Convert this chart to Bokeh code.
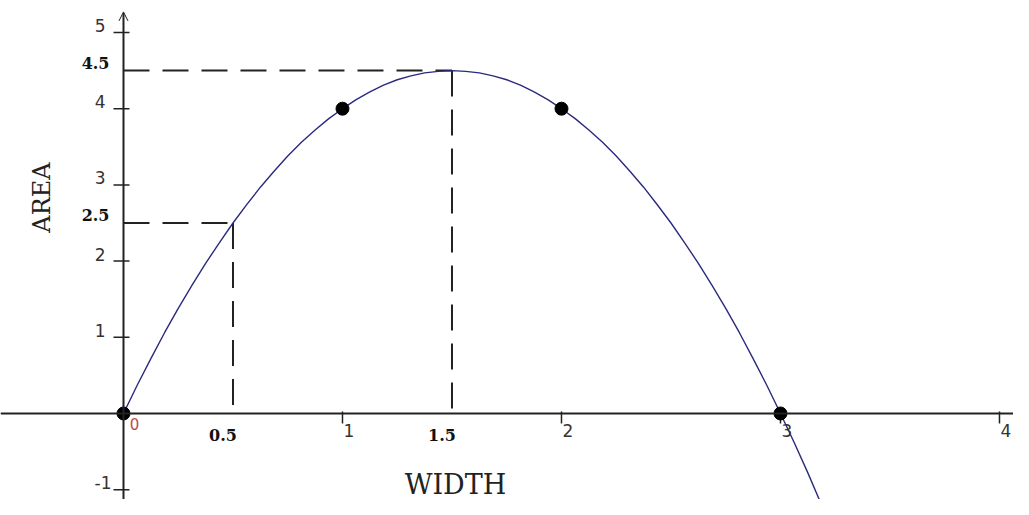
import math
from bokeh.plotting import figure
from bokeh.models import Range1d, Label, Arrow, OpenHead, Span
from bokeh.core.properties import value
from bokeh.embed import file_html
from bokeh.resources import INLINE

# ---- data ----
curve_x = [0, 0.0625, 0.125, 0.1875, 0.25, 0.3125, 0.375, 0.4375, 0.5, 0.5625,
           0.625, 0.6875, 0.75, 0.8125, 0.875, 0.9375, 1.0, 1.0625, 1.125, 1.1875,
           1.25, 1.3125, 1.375, 1.4375, 1.5, 1.5625, 1.625, 1.6875, 1.75, 1.8125,
           1.875, 1.9375, 2.0, 2.0625, 2.125, 2.1875, 2.25, 2.3125, 2.375, 2.4375,
           2.5, 2.5625, 2.625, 2.6875, 2.75, 2.8125, 2.875, 2.9375, 3.0, 3.0625,
           3.125, 3.1875, 3.25, 3.3125]
curve_y = [0, 0.37, 0.72, 1.06, 1.38, 1.68, 1.97, 2.24, 2.5, 2.74,
           2.97, 3.18, 3.38, 3.56, 3.72, 3.87, 4.0, 4.12, 4.22, 4.31,
           4.38, 4.43, 4.47, 4.49, 4.5, 4.49, 4.47, 4.43, 4.38, 4.31,
           4.22, 4.12, 4.0, 3.87, 3.72, 3.56, 3.38, 3.18, 2.97, 2.74,
           2.5, 2.24, 1.97, 1.68, 1.38, 1.06, 0.72, 0.37, 0.0, -0.38,
           -0.78, -1.2, -1.63, -2.07]
point_x = [0, 1, 2, 3]
point_y = [0, 4, 4, 0]
guide_x = [0.5, 1.5]
guide_y = [2.5, 4.5]
guide_x_labels = ["0.5", "1.5"]
guide_y_labels = ["2.5", "4.5"]
y_ticks = [-1, 1, 2, 3, 4, 5]
y_tick_labels = ["-1", "1", "2", "3", "4", "5"]
x_ticks = [1, 2, 3, 4]
x_tick_labels = ["1", "2", "3", "4"]
origin_label = ["0"]
x_title = "WIDTH"
y_title = "AREA"

W, H = 1013, 499
X0, X1 = -0.5616, 4.064
Y0, Y1 = -1.129, 5.42
AX = "#222222"

p = figure(width=W, height=H, output_backend="svg", toolbar_location=None,
           x_range=Range1d(X0, X1), y_range=Range1d(Y0, Y1),
           x_axis_type=None, y_axis_type=None, min_border=0,
           outline_line_color=None, background_fill_color="white",
           border_fill_color="white")
p.grid.visible = False

# axes drawn through the origin
p.add_layout(Span(location=0, dimension="width", line_color=AX, line_width=2))
p.add_layout(Arrow(end=OpenHead(size=9, line_color=AX, line_width=1),
                   x_start=0, y_start=Y0, x_end=0, y_end=5.27,
                   line_color=AX, line_width=2))

# tick marks
p.ray(x=[0] * len(y_ticks), y=y_ticks, length=10, angle=math.pi, length_units="screen",
      line_color=AX, line_width=1.5)
p.ray(x=[0] * len(y_ticks), y=y_ticks, length=6, angle=0, length_units="screen",
      line_color=AX, line_width=1.5)
p.ray(x=x_ticks, y=[0] * len(x_ticks), length=10, angle=-math.pi / 2, length_units="screen",
      line_color=AX, line_width=1.5)
p.ray(x=x_ticks, y=[0] * len(x_ticks), length=2, angle=math.pi / 2, length_units="screen",
      line_color=AX, line_width=1.5)

# dashed guides
p.segment(x0=[0] * len(guide_x), y0=guide_y, x1=guide_x, y1=guide_y,
          line_color=AX, line_width=2, line_dash="26 13")
p.segment(x0=guide_x, y0=guide_y, x1=guide_x, y1=[0] * len(guide_x),
          line_color=AX, line_width=2, line_dash="26 13")

# curve and points
p.line(curve_x, curve_y, line_color="#2a2a7e", line_width=1.4, line_join="round")
p.scatter(point_x, point_y, size=13, color="black")

# tick labels
sans = value("DejaVu Sans")
serif = value("DejaVu Serif")
p.text(x=[0] * len(y_ticks), y=y_ticks, text=y_tick_labels,
       x_offset=[-12, -18, -18, -18, -18, -18], y_offset=-7,
       text_align="right", text_baseline="middle", text_font=sans,
       text_font_size="17px", text_color="#333333")
p.text(x=x_ticks, y=[0] * len(x_ticks), text=x_tick_labels, x_offset=1, y_offset=17,
       text_align="left", text_baseline="middle", text_font=sans,
       text_font_size="17px", text_color="#333333")
p.text(x=[0], y=[0], text=origin_label, x_offset=11, y_offset=11,
       text_align="center", text_baseline="middle", text_font=sans,
       text_font_size="15px", text_color="#b94a48")
p.text(x=[0] * len(guide_y), y=guide_y, text=guide_y_labels, x_offset=-14, y_offset=-8,
       text_align="right", text_baseline="middle", text_font=serif,
       text_font_style="bold", text_font_size="16px", text_color="#111111")
p.text(x=guide_x, y=[0] * len(guide_x), text=guide_x_labels, x_offset=-10, y_offset=22,
       text_align="center", text_baseline="middle", text_font=serif,
       text_font_style="bold", text_font_size="16px", text_color="#111111")

# axis titles
p.add_layout(Label(x=455, y=15, x_units="screen", y_units="screen", text=x_title,
                   text_align="center", text_baseline="middle", text_font="DejaVu Serif",
                   text_font_size="27px", text_color="#222222"))
p.add_layout(Label(x=41, y=302, x_units="screen", y_units="screen", text=y_title,
                   angle=math.pi / 2, text_align="center", text_baseline="middle",
                   text_font="DejaVu Serif", text_font_size="24px", text_color="#222222"))

open("out.html", "w").write(file_html(p, INLINE))
